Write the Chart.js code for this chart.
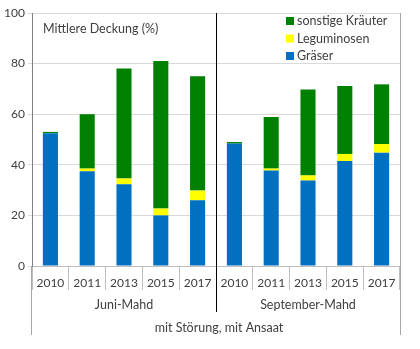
<!DOCTYPE html>
<html>
<head>
<meta charset="utf-8">
<script src="https://cdn.jsdelivr.net/npm/chart.js@4/dist/chart.umd.min.js"></script>
<style>
  html, body { margin: 0; padding: 0; background: #fff; }
  #wrap { width: 420px; height: 349px; position: relative; }
</style>
</head>
<body>
<div id="wrap"><canvas id="deckungChart"></canvas></div>
<script>
// Mittlere Deckung je Aufnahmejahr, gruppiert nach Mahdtermin
const years = ['2010', '2011', '2013', '2015', '2017', '2010', '2011', '2013', '2015', '2017'];
const groups = ['Juni-Mahd', 'September-Mahd'];
const groupSize = 5;
const treatment = 'mit Störung, mit Ansaat';

const graeser = [52.5, 37.5, 32.3, 20.0, 26.0, 48.4, 37.7, 33.8, 41.5, 44.8];
const leguminosen = [0, 1.0, 2.3, 2.7, 3.8, 0, 0.8, 2.0, 2.8, 3.4];
const kraeuter = [0.5, 21.5, 43.5, 58.3, 45.2, 0.6, 20.4, 34.0, 26.8, 23.6];

const yTicks = [0, 20, 40, 60, 80, 100];

const FONT = "'Lato', 'Open Sans', sans-serif";
const TEXT = '#404040';

// Titel, Legende, Gruppenbeschriftung und Trennlinien
const extrasPlugin = {
    id: 'extras',
    afterDraw(chart) {
        const { ctx, chartArea: a, scales: { x } } = chart;
        ctx.save();

        // Rahmen rechts, Achsverlängerung links
        ctx.strokeStyle = '#a6a6a6';
        ctx.lineWidth = 1;
        ctx.beginPath();
        ctx.moveTo(Math.round(a.right) + 0.5, a.top);
        ctx.lineTo(Math.round(a.right) + 0.5, 335);
        ctx.moveTo(Math.round(a.left) - 0.5, a.bottom);
        ctx.lineTo(Math.round(a.left) - 0.5, 335);
        ctx.stroke();

        // Trennlinie zwischen den Mahdterminen
        const sepX = Math.round((x.getPixelForValue(groupSize - 1) + x.getPixelForValue(groupSize)) / 2) + 0.5;
        ctx.strokeStyle = '#000';
        ctx.beginPath();
        ctx.moveTo(sepX, a.top);
        ctx.lineTo(sepX, 312);
        ctx.stroke();

        ctx.fillStyle = TEXT;
        ctx.font = '12.5px ' + FONT;
        ctx.textBaseline = 'middle';

        // Titel im Diagramm
        ctx.textAlign = 'left';
        ctx.fillText('Mittlere Deckung (%)', a.left + 11, 29);

        // Gruppenbeschriftung
        ctx.textAlign = 'center';
        groups.forEach((g, i) => {
            const cx = (x.getPixelForValue(i * groupSize) + x.getPixelForValue(i * groupSize + groupSize - 1)) / 2;
            ctx.fillText(g, cx, 305);
        });
        ctx.fillText(treatment, (a.left + a.right) / 2 + 3, 328);

        // Legende (umgekehrte Stapelreihenfolge)
        ctx.textAlign = 'left';
        const items = chart.data.datasets.slice().reverse();
        items.forEach((ds, i) => {
            const yy = 21 + i * 17.5;
            ctx.fillStyle = ds.backgroundColor;
            ctx.fillRect(286, yy - 4, 8, 8);
            ctx.fillStyle = TEXT;
            ctx.fillText(ds.label, 297, yy);
        });

        ctx.restore();
    }
};

new Chart(document.getElementById('deckungChart').getContext('2d'), {
    type: 'bar',
    data: {
        labels: years,
        datasets: [
            { label: 'Gräser', data: graeser, backgroundColor: '#0070C0' },
            { label: 'Leguminosen', data: leguminosen, backgroundColor: '#FFFF00' },
            { label: 'sonstige Kräuter', data: kraeuter, backgroundColor: '#008000' }
        ]
    },
    options: {
        responsive: true,
        maintainAspectRatio: false,
        animation: false,
        datasets: { bar: { categoryPercentage: 1, barPercentage: 0.41 } },
        layout: { padding: { top: 13, right: 20, left: 0, bottom: 0 } },
        plugins: { legend: { display: false }, tooltip: { enabled: false } },
        scales: {
            x: {
                stacked: true,
                grid: { offset: true, drawOnChartArea: false, tickLength: 24, color: '#bfbfbf' },
                border: { color: '#bfbfbf' },
                ticks: { color: TEXT, font: { family: FONT, size: 12 }, padding: -14, maxRotation: 0, autoSkip: false },
                afterFit: (s) => { s.height = 349 - 266; }
            },
            y: {
                stacked: true,
                min: 0,
                max: 100,
                afterBuildTicks: (s) => { s.ticks = yTicks.map(v => ({ value: v })); },
                grid: { color: '#d9d9d9', tickLength: 4 },
                border: { color: '#808080' },
                ticks: { color: TEXT, font: { family: FONT, size: 12 }, padding: 3 },
                afterFit: (s) => { s.width = 32; }
            }
        }
    },
    plugins: [extrasPlugin]
});
</script>
</body>
</html>
